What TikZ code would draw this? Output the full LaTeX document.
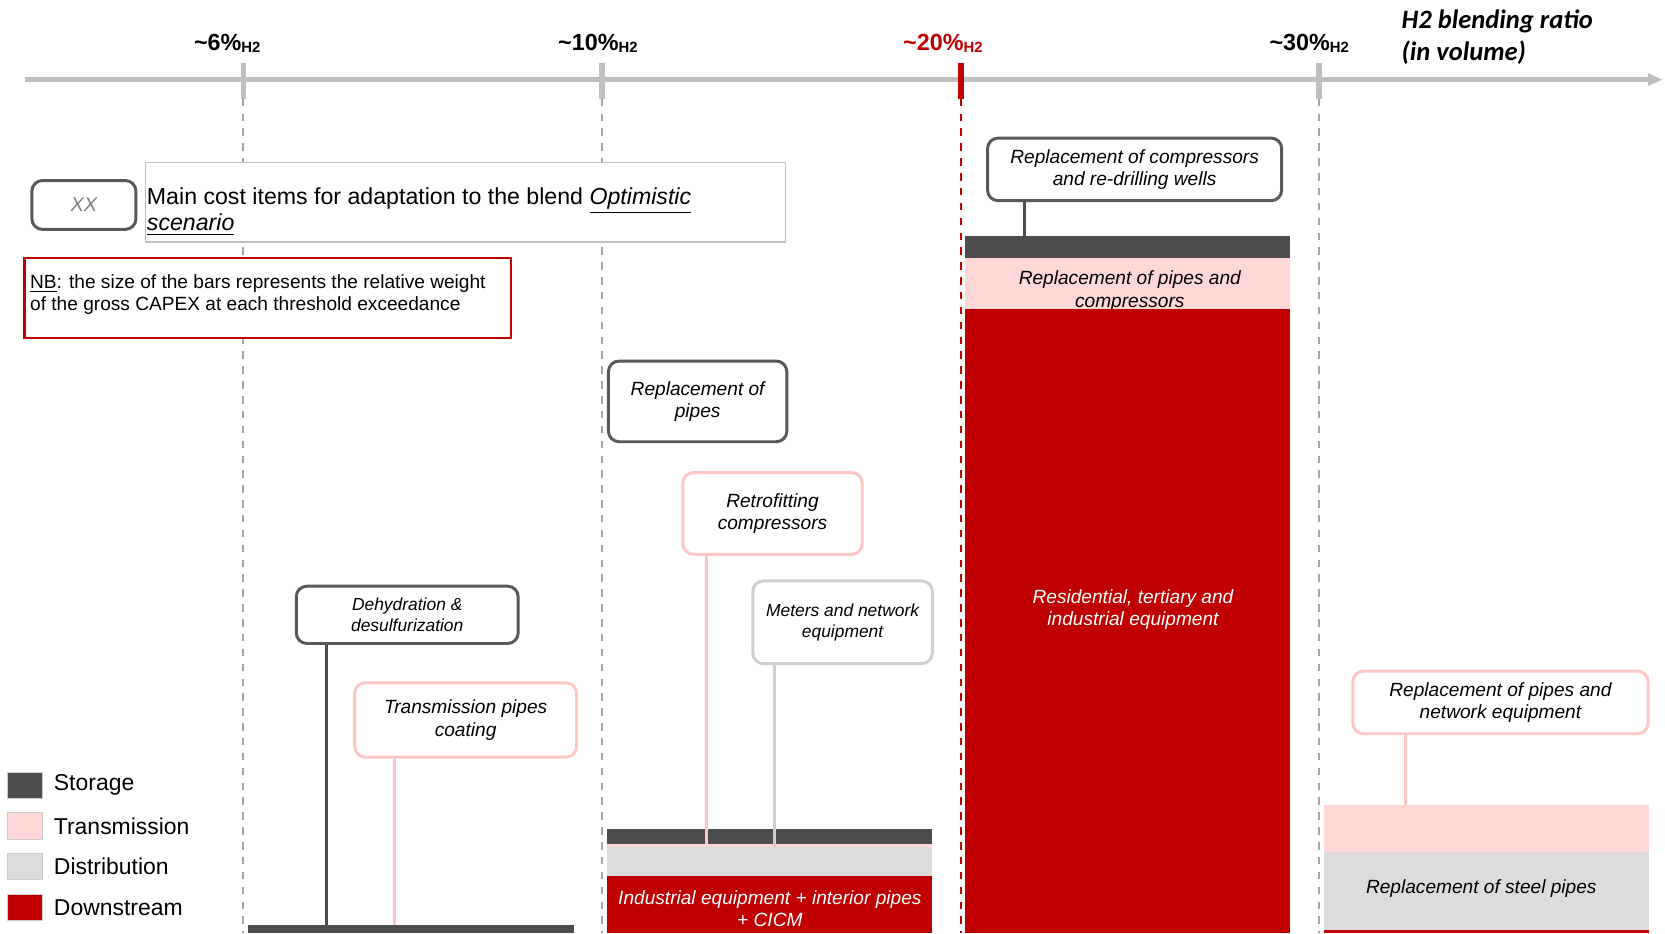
\documentclass[tikz,border=0pt]{standalone}
\usepackage{fontspec}
\setmainfont{Liberation Sans}
\newfontfamily\calfont{Carlito}
\usetikzlibrary{positioning,fit,arrows.meta}
\definecolor{stor}{HTML}{4D4D4D}
\definecolor{trans}{HTML}{FFD7D7}
\definecolor{dist}{HTML}{DCDCDC}
\definecolor{down}{HTML}{C00000}
\definecolor{axisgray}{HTML}{BFBFBF}
\definecolor{guidegray}{HTML}{A6A6A6}
\definecolor{boxdark}{HTML}{595959}
\definecolor{boxpink}{HTML}{FFC6C6}
\definecolor{boxgray}{HTML}{CFCFCF}
\tikzset{
  item/.style={draw, fill=white, rounded corners=5pt, line width=1.4pt, inner sep=0pt, align=center, font=\fontsize{9}{10.5}\selectfont\itshape},
  seg/.style={inner sep=0pt, outer sep=0pt, align=center, font=\fontsize{9}{10.5}\selectfont\itshape},
  guide/.style={guidegray, line width=1pt, dash pattern=on 3.5pt off 3.5pt},
  tickmark/.style={axisgray, line width=2.5pt},
  swatch/.style={draw=black!20, line width=0.4pt, minimum width=16.5pt, minimum height=12.5pt, inner sep=0pt},
  legtxt/.style={font=\fontsize{10.8}{12}\selectfont, inner sep=1pt},
  ratio/.style={font=\fontsize{11}{12}\selectfont\bfseries, inner sep=0pt},
  cstor/.style={stor, line width=1.5pt},
  ctrans/.style={boxpink, line width=1.3pt},
  cdist/.style={boxgray, line width=1.3pt}
}
\newcommand{\htwo}{\raisebox{-0.5pt}{\fontsize{7}{7}\selectfont H2}}
\begin{document}
\begin{tikzpicture}[x=0.5pt,y=-0.5pt]
\useasboundingbox (0,0) rectangle (1568,879);
\draw[axisgray, line width=2.6pt, -{Triangle[length=7pt,width=5.5pt]}] (24,75) -- (1566,75);
\foreach \x in {229,567,1242} {
  \draw[tickmark] (\x,59) -- (\x,93);
  \draw[guide] (\x,93) -- (\x,879);
}
\draw[tickmark, down] (905,59) -- (905,93);
\draw[guide, down] (905,93) -- (905,879);
\node[ratio, anchor=base] (r6) at (214,48) {\textasciitilde6\%\htwo};
\node[ratio, anchor=base] (r10) at (563,48) {\textasciitilde10\%\htwo};
\node[ratio, anchor=base, text=down] (r20) at (888,48) {\textasciitilde20\%\htwo};
\node[ratio, anchor=base] (r30) at (1233,48) {\textasciitilde30\%\htwo};
\node[align=left, inner sep=0pt, font=\calfont\fontsize{12.5}{15.5}\selectfont\bfseries\itshape] (blend) at (1410,35) {H2 blending ratio\\(in volume)};

\node[item, draw=boxdark, minimum width=49pt, minimum height=23pt, text=black!50, font=\fontsize{9.4}{11}\selectfont\itshape] (xx) at (79,193) {XX};
\node[draw=axisgray, fill=white, line width=0.6pt, inner sep=0pt, fit={(137,153) (740,228)}] (mainbox) {};
\node[anchor=west, align=left, inner sep=0pt, font=\fontsize{10.9}{12.5}\selectfont] (maintxt) at (138,199) {Main cost items for adaptation to the blend \underline{\textit{Optimistic}}\\\underline{\textit{scenario}}};
\node[draw=down, fill=white, line width=1.1pt, inner sep=0pt, fit={(23,243) (481,318)}] (nbbox) {};
\node[anchor=north west, align=left, inner sep=0pt, font=\fontsize{9}{10.5}\selectfont] (nbtxt) at (28,258) {\underline{NB}: the size of the bars represents the relative weight\\of the gross CAPEX at each threshold exceedance};

\node[item, draw=boxdark, minimum width=138.5pt, minimum height=29.5pt] (rcomp) at (1068.5,159.5) {Replacement of compressors\\and re-drilling wells};
\node[item, draw=boxdark, minimum width=84pt, minimum height=38pt] (rpipe) at (657,378) {Replacement of\\pipes};
\node[item, draw=boxpink, minimum width=84.5pt, minimum height=38.5pt] (retro) at (727.5,483.5) {Retrofitting\\compressors};
\node[item, draw=boxgray, minimum width=84.5pt, minimum height=39pt, font=\fontsize{8.2}{10}\selectfont\itshape] (meter) at (793.5,586) {Meters and network\\equipment};
\node[item, draw=boxdark, minimum width=104.5pt, minimum height=27pt, font=\fontsize{8.2}{10}\selectfont\itshape] (dehyd) at (383.5,579) {Dehydration \&\\desulfurization};
\node[item, draw=boxpink, minimum width=104.5pt, minimum height=35pt] (tcoat) at (438.5,678) {Transmission pipes\\coating};
\node[item, draw=boxpink, minimum width=139pt, minimum height=29.5pt] (rpne) at (1413,661.5) {Replacement of pipes and\\network equipment};

\node[seg, fill=stor, fit={(234,871) (541,879)}] (st6) {};

\node[seg, fill=stor, fit={(572,781) (878,795)}] (st10) {};
\node[seg, fill=trans, fit={(572,795) (878,798)}] (tr10) {};
\node[seg, fill=dist, fit={(572,798) (878,825)}] (di10) {};
\node[seg, fill=down, fit={(572,825) (878,879)}] (dn10) {};
\node[seg, text=white] (dn10txt) at (725,856) {Industrial equipment + interior pipes\\+ CICM};

\node[seg, fill=stor, fit={(909,222) (1215,243)}] (st20) {};
\node[seg, fill=trans, fit={(909,243) (1215,291)}] (tr20) {};
\node[seg] (tr20txt) at (1064,274) {Replacement of pipes and\\compressors};
\node[seg, fill=down, fit={(909,291) (1215,879)}] (dn20) {};
\node[seg, text=white] (dn20txt) at (1067,574) {Residential, tertiary and\\industrial equipment};

\node[seg, fill=trans, fit={(1247,758) (1553,802)}] (tr30) {};
\node[seg, fill=dist, fit={(1247,802) (1553,876)}] (di30) {};
\node[seg, fill=down, fit={(1247,876) (1553,879)}] (dn30) {};
\node[seg] (di30txt) at (1395,837) {Replacement of steel pipes};

\draw[cstor] ([xshift=18pt]rcomp.south west) -- ([xshift=18pt]rcomp.south west |- st20.north);
\draw[cstor] ([xshift=15pt]dehyd.south west) -- ([xshift=15pt]dehyd.south west |- st6.north);
\draw[ctrans] ([xshift=19.5pt]tcoat.south west) -- ([xshift=19.5pt]tcoat.south west |- st6.north);
\draw[ctrans] ([xshift=12pt]retro.south west) -- ([xshift=12pt]retro.south west |- tr10.north);
\draw[cdist] ([xshift=11pt]meter.south west) -- ([xshift=11pt]meter.south west |- di10.north);
\draw[ctrans] ([xshift=25.5pt]rpne.south west) -- ([xshift=25.5pt]rpne.south west |- tr30.north);

\foreach \c/\t [count=\i] in {stor/Storage,trans/Transmission,dist/Distribution,down/Downstream} {
  \node[swatch, fill=\c] (sw\i) at (23.5,701.2+38.3*\i) {};
  \node[legtxt, right=4pt of sw\i] (lg\i) {\t};
}
\end{tikzpicture}
\end{document}
